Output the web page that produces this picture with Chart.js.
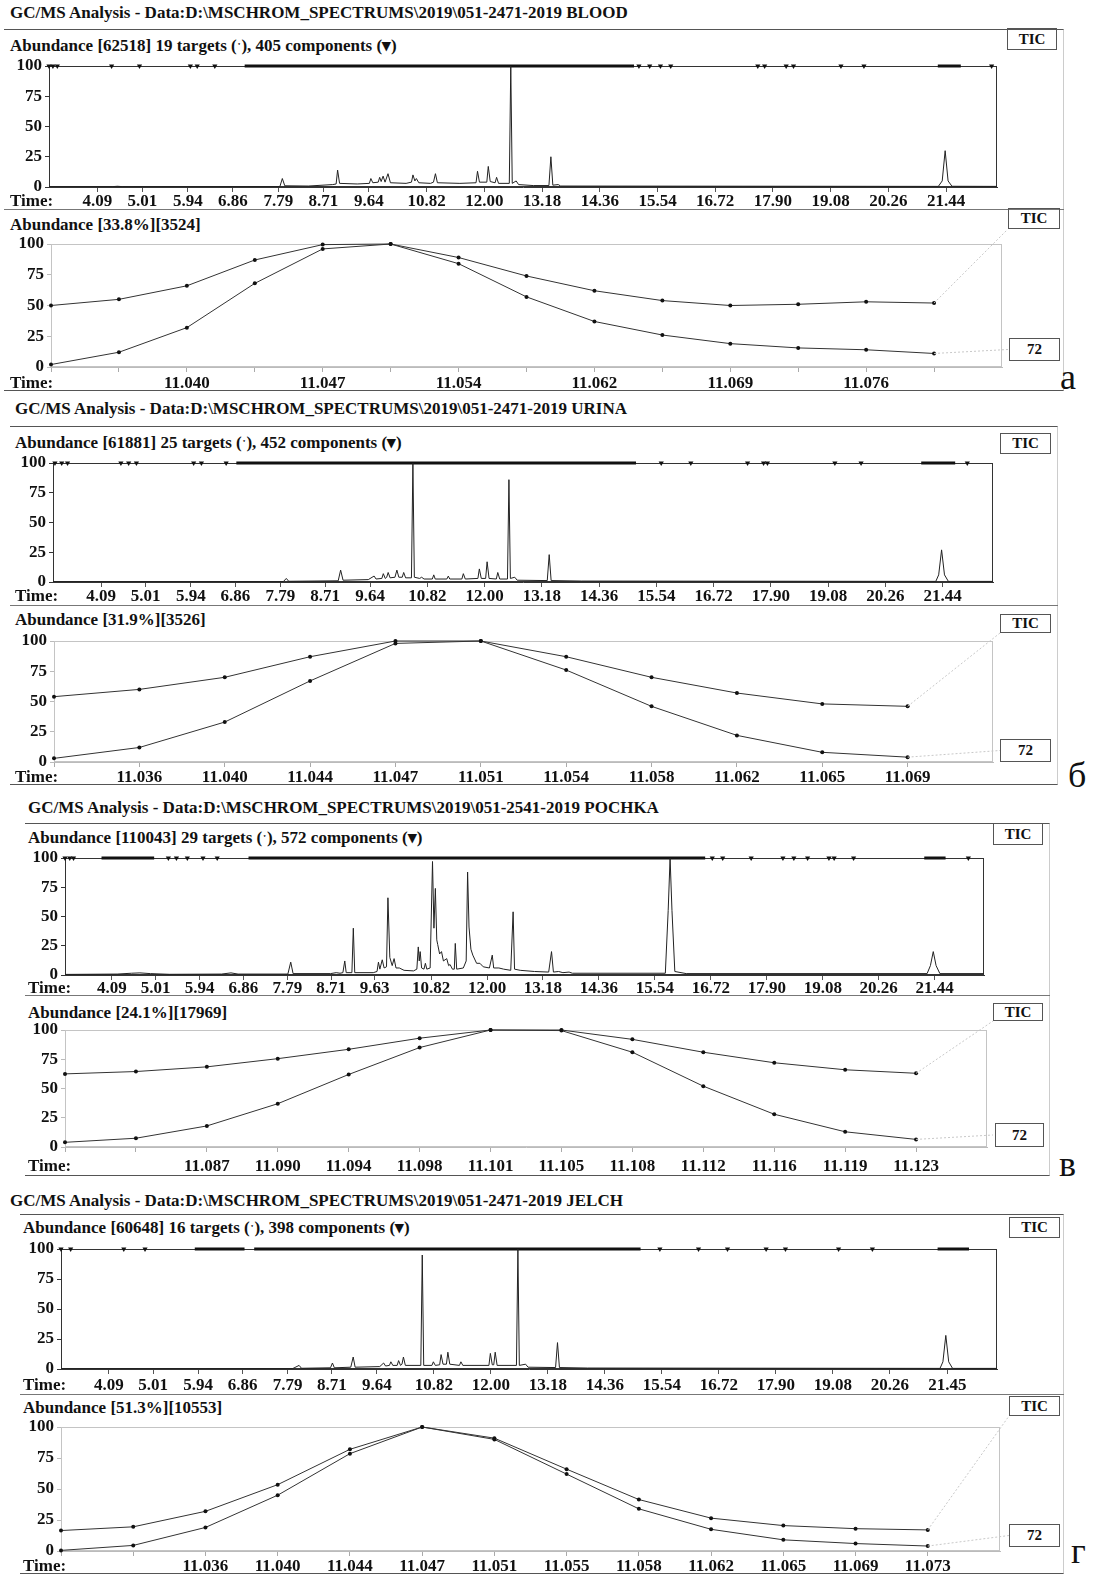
<!DOCTYPE html>
<html>
<head>
<meta charset="utf-8">
<script src="https://cdn.jsdelivr.net/npm/chart.js@4.4.1/dist/chart.umd.min.js"></script>
<style>
  body { margin: 0; background: #fff; }
  #page { position: relative; width: 1095px; height: 1575px; overflow: hidden;
          font-family: 'Liberation Serif', 'Times New Roman', serif; font-weight: bold; color: #111; }
  .t { position: absolute; font-size: 17px; line-height: 20px; white-space: nowrap; }
  .box { position: absolute; border: 1px solid #555; text-align: center; font-size: 15px; box-sizing: border-box; }
  .frame { position: absolute; border-top: 1px solid #555; border-bottom: 1px solid #555; border-right: 1px solid #ccc; box-sizing: border-box; }
  .sep { position: absolute; height: 0; border-top: 1px solid #777; }
  .letter { position: absolute; font-weight: normal; font-size: 36px; line-height: 40px; }
  canvas { position: absolute; }
</style>
</head>
<body>
<div id="page"></div>
<script>
// ---- data ----
const abundTicks = [0, 25, 50, 75, 100];

const ticLabels    = ['4.09','5.01','5.94','6.86','7.79','8.71','9.64','10.82','12.00','13.18','14.36','15.54','16.72','17.90','19.08','20.26','21.44'];
const pochkaLabels = ['4.09','5.01','5.94','6.86','7.79','8.71','9.63','10.82','12.00','13.18','14.36','15.54','16.72','17.90','19.08','20.26','21.44'];
const jelchLabels  = ['4.09','5.01','5.94','6.86','7.79','8.71','9.64','10.82','12.00','13.18','14.36','15.54','16.72','17.90','19.08','20.26','21.45'];

// [time, abundance %]
const bloodTrace = [[3.10,0.3],[4.40,0.3],[4.50,0.6],[4.60,0.3],[7.82,0.4],[7.87,7],[7.92,1],[8.40,0.8],[8.90,2],[8.97,2.5],[9.00,14],[9.04,3],[9.40,2.5],[9.65,3],[9.68,7],[9.72,3.5],[9.83,4],[9.86,8],[9.89,4.5],[9.93,9],[9.97,4],[10.03,11],[10.08,3.5],[10.40,3],[10.51,4],[10.54,10],[10.58,5],[10.61,7],[10.66,3.5],[10.90,3],[10.96,4],[11.00,11],[11.04,3.5],[11.50,3],[11.83,3.5],[11.86,13],[11.90,4],[12.05,4],[12.08,17],[12.12,4.5],[12.22,3.5],[12.25,8],[12.29,3],[12.51,3],[12.54,100],[12.57,3],[12.65,5],[12.70,2],[13.00,1.2],[13.32,1.2],[13.36,25],[13.40,1.5],[13.51,2],[13.56,0.8],[21.28,0.5],[21.36,5],[21.42,30],[21.48,5],[21.56,0.6],[22.48,0.5]];
const urineTrace = [[3.10,0.3],[7.85,0.4],[7.91,3],[7.96,0.6],[8.98,1],[9.03,10],[9.08,1.5],[9.60,2],[9.72,5],[9.76,2.5],[9.88,3],[9.91,7],[9.95,3],[9.98,4],[10.01,8],[10.05,3.5],[10.15,4],[10.19,10],[10.23,4],[10.30,4],[10.33,8],[10.37,3.5],[10.49,3.5],[10.52,100],[10.55,4],[10.66,3],[10.70,4],[10.75,2.5],[10.92,2.5],[10.95,6],[10.98,2.5],[11.22,2.5],[11.25,5],[11.28,2.5],[11.53,2.5],[11.56,7],[11.60,2.5],[11.86,3],[11.89,11],[11.93,3],[12.02,3],[12.05,17],[12.09,3],[12.24,2.5],[12.27,8],[12.31,2.5],[12.47,2.5],[12.50,86],[12.53,3],[12.62,4],[12.67,1.5],[13.29,1.2],[13.33,23],[13.37,1.2],[14.00,0.8],[21.30,0.5],[21.36,6],[21.42,27],[21.48,6],[21.56,0.5],[22.48,0.5]];
const pochkaTrace = [[3.10,0.5],[4.20,0.8],[4.50,1.5],[4.68,1.8],[4.90,1.2],[5.30,0.6],[6.40,0.8],[6.60,1.8],[6.75,0.8],[7.80,0.8],[7.86,11],[7.91,1.2],[8.70,1.2],[8.82,2],[8.90,1.5],[8.96,2],[9.00,12],[9.03,2],[9.15,2],[9.18,40],[9.21,2],[9.60,2],[9.68,3],[9.71,11],[9.74,5],[9.79,13],[9.83,6],[9.88,7],[9.91,66],[9.95,15],[10.00,8],[10.04,14],[10.08,6],[10.15,6],[10.25,4],[10.45,3.5],[10.52,5],[10.55,24],[10.57,12],[10.59,20],[10.62,6],[10.67,5],[10.70,10],[10.73,5],[10.80,6],[10.85,97],[10.88,40],[10.91,74],[10.94,30],[10.96,26],[11.00,18],[11.04,20],[11.08,12],[11.15,14],[11.19,8],[11.22,9],[11.27,5],[11.31,5],[11.33,27],[11.36,5],[11.50,6],[11.56,12],[11.59,88],[11.62,41],[11.66,22],[11.70,17],[11.78,10],[11.85,10],[11.92,7],[12.05,6],[12.11,17],[12.14,6],[12.25,6],[12.35,5],[12.50,4],[12.55,54],[12.58,5],[12.70,4],[13.00,3],[13.30,2.5],[13.36,20],[13.40,2.5],[13.51,3],[13.60,2],[13.73,2.5],[13.80,1.5],[15.76,1.5],[15.82,55],[15.86,100],[15.90,55],[15.96,3],[16.20,1.2],[21.28,1.2],[21.35,8],[21.41,20],[21.47,8],[21.55,1.2],[22.48,1.2]];
const jelchTrace = [[3.10,0.3],[7.90,0.4],[8.03,3],[8.08,0.6],[8.68,1],[8.72,5],[8.76,1],[9.10,1.5],[9.15,10],[9.19,1.5],[9.70,2],[9.78,5],[9.82,2.5],[9.90,3],[9.93,6],[9.97,3],[10.06,3],[10.09,7],[10.13,3],[10.16,4],[10.19,10],[10.23,3],[10.55,3],[10.58,95],[10.61,3],[10.78,3],[10.81,6],[10.85,3],[10.94,3.5],[10.97,12],[11.01,4],[11.08,4],[11.11,14],[11.15,4],[11.35,3],[11.38,6],[11.42,3],[11.96,3],[11.99,13],[12.03,3.5],[12.06,3.5],[12.09,14],[12.13,3],[12.53,3],[12.56,100],[12.59,3],[12.72,4],[12.77,1.5],[13.34,1.2],[13.38,22],[13.42,1.2],[14.00,0.8],[21.30,0.5],[21.36,6],[21.42,28],[21.48,6],[21.56,0.5],[22.48,0.5]];

// component markers on the top line: single marks and dense bands [from, to]
const bloodMarks  = [3.10,3.18,3.27,4.38,4.95,5.99,6.13,6.49,15.16,15.38,15.60,15.81,17.59,17.73,18.17,18.32,19.29,19.76,22.37];
const bloodBands  = [[7.10,15.06],[21.27,21.74]];
const urineMarks  = [3.14,3.28,3.40,4.50,4.66,4.82,6.00,6.16,6.67,15.64,16.25,17.42,17.75,17.83,19.22,19.76,21.95];
const urineBands  = [[6.88,15.12],[21.00,21.70]];
const pochkaMarks = [3.10,3.20,3.28,5.28,5.45,5.68,6.01,6.31,16.75,16.97,17.57,18.24,18.47,18.76,19.21,19.32,19.73,22.15];
const pochkaBands = [[3.87,4.98],[6.97,16.60],[21.22,21.67]];
const jelchMarks  = [3.10,3.30,4.40,4.84,15.50,16.30,16.90,17.70,18.10,19.20,19.90];
const jelchBands  = [[5.87,6.90],[7.10,15.10],[21.25,21.90]];

// zoomed peak: scan-by-scan TIC and ion 72 (% of max)
const bloodScanLabels  = ['','','11.040','','11.047','','11.054','','11.062','','11.069','','11.076',''];
const bloodScanTic     = [50,55,66,87,99.5,100,89,74,62,54,50,51,53,52];
const bloodScan72      = [2,12,32,68,96,100,84,57,37,26,19,15.5,14,11];
const urineScanLabels  = ['','11.036','11.040','11.044','11.047','11.051','11.054','11.058','11.062','11.065','11.069'];
const urineScanTic     = [54,60,70,87,100,100,87,70,57,48,46];
const urineScan72      = [3,12,33,67,98,100,76,46,22,8,4];
const pochkaScanLabels = ['','','11.087','11.090','11.094','11.098','11.101','11.105','11.108','11.112','11.116','11.119','11.123'];
const pochkaScanTic    = [62.5,64.5,68.5,75.5,83.5,93,100,100,92,81,72,66,63];
const pochkaScan72     = [4,7.5,18,37,62,85,100,99.5,81,52,28,13,6.5];
const jelchScanLabels  = ['','','11.036','11.040','11.044','11.047','11.051','11.055','11.058','11.062','11.065','11.069','11.073'];
const jelchScanTic     = [16.5,19.5,32,53.5,82,100,91,66,41.5,26.5,20.5,18,17];
const jelchScan72      = [0.5,4.5,19,45,78.5,100,90,62,34,17.5,9,6,4];

// ---- page layout ----
const FONT = "'Liberation Serif', 'Times New Roman', serif";
const page = document.getElementById('page');

const panels = [
  { title: 'GC/MS Analysis - Data:D:\\MSCHROM_SPECTRUMS\\2019\\051-2471-2019 BLOOD', titleX: 10, titleY: 13, textX: 10,
    head1: 'Abundance [62518] 19 targets (\u02d1), 405 components (\u25be)', head2: 'Abundance [33.8%][3524]',
    frame: { l: 4, t: 29, r: 1064, b: 391 }, sep: 209, head1Y: 46, head2Y: 225,
    box1: [1007, 28, 50, 22], box2: [1008, 208, 52, 21], box72: [1009, 338, 51, 23],
    tic: { L: 49, T: 66, R: 999, B: 187, rowY: 201 }, peak: { L: 51, T: 244, R: 1002, B: 367, rowY: 383 },
    letter: 'а', letterX: 1060, letterY: 381,
    trace: bloodTrace, labels: ticLabels, marks: bloodMarks, bands: bloodBands,
    scanLabels: bloodScanLabels, scanTic: bloodScanTic, scan72: bloodScan72, slots: 14 },
  { title: 'GC/MS Analysis - Data:D:\\MSCHROM_SPECTRUMS\\2019\\051-2471-2019 URINA', titleX: 15, titleY: 409, textX: 15,
    head1: 'Abundance [61881] 25 targets (\u02d1), 452 components (\u25be)', head2: 'Abundance [31.9%][3526]',
    frame: { l: 10, t: 426, r: 1058, b: 785 }, sep: 605, head1Y: 443, head2Y: 620,
    box1: [1000, 433, 51, 21], box2: [1000, 614, 51, 19], box72: [1000, 739, 51, 23],
    tic: { L: 53, T: 463, R: 995, B: 582, rowY: 596 }, peak: { L: 54, T: 641, R: 993, B: 762, rowY: 777 },
    letter: 'б', letterX: 1068, letterY: 779,
    trace: urineTrace, labels: ticLabels, marks: urineMarks, bands: urineBands,
    scanLabels: urineScanLabels, scanTic: urineScanTic, scan72: urineScan72, slots: 11 },
  { title: 'GC/MS Analysis - Data:D:\\MSCHROM_SPECTRUMS\\2019\\051-2541-2019 POCHKA', titleX: 28, titleY: 808, textX: 28,
    head1: 'Abundance [110043] 29 targets (\u02d1), 572 components (\u25be)', head2: 'Abundance [24.1%][17969]',
    frame: { l: 25, t: 823, r: 1050, b: 1176 }, sep: 995, head1Y: 838, head2Y: 1013,
    box1: [993, 823, 50, 22], box2: [993, 1003, 50, 18], box72: [995, 1123, 49, 24],
    tic: { L: 65, T: 858, R: 986, B: 975, rowY: 988 }, peak: { L: 65, T: 1030, R: 987, B: 1147, rowY: 1166 },
    letter: 'в', letterX: 1059, letterY: 1168,
    trace: pochkaTrace, labels: pochkaLabels, marks: pochkaMarks, bands: pochkaBands,
    scanLabels: pochkaScanLabels, scanTic: pochkaScanTic, scan72: pochkaScan72, slots: 13 },
  { title: 'GC/MS Analysis - Data:D:\\MSCHROM_SPECTRUMS\\2019\\051-2471-2019 JELCH', titleX: 10, titleY: 1201, textX: 23,
    head1: 'Abundance [60648] 16 targets (\u02d1), 398 components (\u25be)', head2: 'Abundance [51.3%][10553]',
    frame: { l: 20, t: 1214, r: 1064, b: 1574 }, sep: 1394, head1Y: 1228, head2Y: 1408,
    box1: [1009, 1217, 51, 21], box2: [1009, 1396, 51, 20], box72: [1009, 1524, 51, 23],
    tic: { L: 61, T: 1249, R: 999, B: 1369, rowY: 1385 }, peak: { L: 61, T: 1427, R: 1000, B: 1551, rowY: 1566 },
    letter: 'г', letterX: 1071, letterY: 1555,
    trace: jelchTrace, labels: jelchLabels, marks: jelchMarks, bands: jelchBands,
    scanLabels: jelchScanLabels, scanTic: jelchScanTic, scan72: jelchScan72, slots: 13 }
];

function el(tag, cls, css, text) {
  const e = document.createElement(tag);
  if (cls) e.className = cls;
  Object.assign(e.style, css);
  if (text != null) e.textContent = text;
  page.appendChild(e);
  return e;
}
function text(str, x, cy) { return el('div', 't', { left: x + 'px', top: (cy - 10) + 'px' }, str); }
function box(str, b) {
  el('div', 'box', { left: b[0] + 'px', top: b[1] + 'px', width: b[2] + 'px', height: b[3] + 'px', lineHeight: (b[3] - 2) + 'px' }, str);
}
function canvasAt(x, y, w, h) {
  const c = el('canvas', null, { left: x + 'px', top: y + 'px', width: w + 'px', height: h + 'px' });
  c.width = w; c.height = h;
  return c;
}

// rectangle round the plot area
const frameRect = {
  id: 'frameRect',
  beforeDatasetsDraw(chart, args, opts) {
    const a = chart.chartArea, ctx = chart.ctx;
    ctx.save();
    ctx.strokeStyle = opts.color || '#333';
    ctx.lineWidth = 1;
    ctx.strokeRect(Math.round(a.left) + 0.5, Math.round(a.top) + 0.5, Math.round(a.width) - 1, Math.round(a.height) - 1);
    ctx.restore();
  }
};
// faint dotted leaders from the last scan to the TIC / 72 boxes
const leaders = {
  id: 'leaders',
  afterDatasetsDraw(chart, args, opts) {
    if (!opts.targets) return;
    const ctx = chart.ctx;
    ctx.save();
    ctx.strokeStyle = '#c8c8c8';
    ctx.setLineDash([2, 2]);
    ctx.lineWidth = 1;
    opts.targets.forEach((t, i) => {
      const pts = chart.getDatasetMeta(i).data;
      const p = pts[pts.length - 1];
      ctx.beginPath(); ctx.moveTo(p.x, p.y); ctx.lineTo(t[0], t[1]); ctx.stroke();
    });
    ctx.restore();
  }
};

function axisFont(size) { return { family: FONT, size: size, weight: 'bold' }; }

function yAxis(width, color) {
  return {
    min: 0, max: 100,
    afterFit: s => { s.width = width; },
    afterBuildTicks: s => { s.ticks = abundTicks.map(v => ({ value: v })); },
    ticks: { color: '#111', padding: 3, font: axisFont(17) },
    grid: { display: true, drawOnChartArea: false, tickLength: 4, color: color },
    border: { display: true, color: color }
  };
}

function ticChart(p) {
  const a = p.tic, x0 = p.frame.l + 1, y0 = a.T - 14;
  const w = a.R + 2 - x0, xh = a.rowY - a.B + 14;
  const c = canvasAt(x0, y0, w, a.B + xh - y0);
  const datasets = [
    { data: p.trace.map(d => ({ x: d[0], y: d[1] })), borderColor: '#222', borderWidth: 1, pointRadius: 0, tension: 0 },
    { data: p.marks.map(t => ({ x: t, y: 100 })), showLine: false, pointStyle: 'triangle', rotation: 180,
      pointRadius: 3, pointBackgroundColor: '#111', pointBorderWidth: 0, clip: false }
  ];
  p.bands.forEach(b => datasets.push({ data: [{ x: b[0], y: 100 }, { x: b[1], y: 100 }], borderColor: '#111',
    borderWidth: 3, pointRadius: 0, clip: false }));
  new Chart(c, {
    type: 'line',
    data: { datasets: datasets },
    options: {
      responsive: false, animation: false, devicePixelRatio: 1,
      layout: { padding: { top: 14, right: 2, left: 0, bottom: 0 } },
      plugins: { legend: { display: false }, tooltip: { enabled: false }, frameRect: { color: '#333' } },
      scales: {
        x: {
          type: 'linear', min: 3.1, max: 22.48,
          afterFit: s => { s.height = xh; },
          afterBuildTicks: s => { s.ticks = p.labels.map(v => ({ value: parseFloat(v) })); },
          ticks: { autoSkip: false, maxRotation: 0, color: '#111', padding: a.rowY - a.B - 15, font: axisFont(17),
                   callback: (v, i) => p.labels[i] },
          grid: { display: true, drawOnChartArea: false, tickLength: 5, color: '#555' },
          border: { display: true, color: '#333' }
        },
        y: yAxis(a.L - x0, '#333')
      }
    },
    plugins: [frameRect]
  });
}

function peakChart(p) {
  const a = p.peak, x0 = p.frame.l + 1, y0 = a.T - 14;
  const right = p.box2[0];
  const w = right - x0, xh = a.rowY - a.B + 14, h = a.B + xh - y0;
  const c = canvasAt(x0, y0, w, h);
  const series = [p.scanTic, p.scan72];
  new Chart(c, {
    type: 'line',
    data: {
      datasets: series.map(s => ({
        data: s.map((v, i) => ({ x: i, y: v })), borderColor: '#333', borderWidth: 1, tension: 0,
        pointRadius: 2, pointBackgroundColor: '#111', pointBorderWidth: 0, clip: false
      }))
    },
    options: {
      responsive: false, animation: false, devicePixelRatio: 1,
      layout: { padding: { top: 14, right: right - a.R, left: 0, bottom: 0 } },
      plugins: {
        legend: { display: false }, tooltip: { enabled: false }, frameRect: { color: '#c4c4c4' },
        leaders: { targets: [[w, p.box2[1] + p.box2[3] - y0], [w, p.box72[1] + p.box72[3] / 2 - y0]] }
      },
      scales: {
        x: {
          type: 'linear', min: 0, max: p.slots,
          afterFit: s => { s.height = xh; },
          afterBuildTicks: s => { s.ticks = p.scanLabels.map((v, i) => ({ value: i })); },
          ticks: { autoSkip: false, maxRotation: 0, color: '#111', padding: a.rowY - a.B - 15, font: axisFont(17),
                   callback: v => p.scanLabels[v] },
          grid: { display: true, drawOnChartArea: false, tickLength: 5, color: '#aaa' },
          border: { display: true, color: '#bbb' }
        },
        y: yAxis(a.L - x0, '#bbb')
      }
    },
    plugins: [frameRect, leaders]
  });
}

panels.forEach(p => {
  const f = p.frame;
  el('div', 'frame', { left: f.l + 'px', top: f.t + 'px', width: (f.r - f.l) + 'px', height: (f.b - f.t) + 'px' });
  el('div', 'sep', { left: f.l + 'px', top: p.sep + 'px', width: (f.r - f.l) + 'px' });
  text(p.title, p.titleX, p.titleY);
  text(p.head1, p.textX, p.head1Y);
  text(p.head2, p.textX, p.head2Y);
  box('TIC', p.box1);
  box('TIC', p.box2);
  box('72', p.box72);
  ticChart(p);
  peakChart(p);
  text('Time:', p.textX, p.tic.rowY);
  text('Time:', p.textX, p.peak.rowY);
  el('div', 'letter', { left: p.letterX + 'px', top: (p.letterY - 24) + 'px' }, p.letter);
});
</script>
</body>
</html>
